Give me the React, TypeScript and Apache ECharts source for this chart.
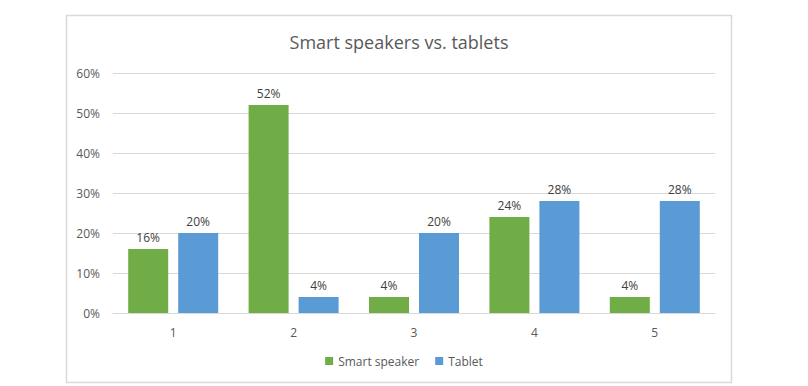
import React, { useEffect, useRef } from "react";
import * as echarts from "echarts";

const categories = ["1", "2", "3", "4", "5"];
const smartSpeaker = [16, 52, 4, 24, 4];
const tablet = [20, 4, 20, 28, 28];
const seriesNames = ["Smart speaker", "Tablet"];
const titleText = "Smart speakers vs. tablets";

export default function App() {
  const ref = useRef<HTMLDivElement>(null);
  useEffect(() => {
    if (!ref.current) return;
    const chart = echarts.init(ref.current, null, { renderer: "svg" });
    const font = "'Open Sans', 'Liberation Sans', sans-serif";
    const label = {
      show: true,
      position: "top",
      distance: 6,
      formatter: (p: any) => p.value + "%",
      color: "#404040",
      fontSize: 12,
      fontFamily: font,
    };
    chart.setOption({
      animation: false,
      backgroundColor: "#ffffff",
      graphic: [
        {
          type: "rect",
          shape: { x: 66.5, y: 15.5, width: 665, height: 367 },
          style: { fill: "none", stroke: "#d9d9d9", lineWidth: 1.5 },
          silent: true,
        },
        {
          type: "text",
          x: 399,
          y: 42,
          style: {
            text: titleText,
            fill: "#595959",
            fontSize: 18,
            fontFamily: font,
            align: "center",
            verticalAlign: "middle",
          },
          silent: true,
        },
      ],
      legend: {
        data: seriesNames,
        bottom: 14,
        left: "center",
        itemWidth: 8,
        itemHeight: 8,
        itemGap: 16,
        icon: "rect",
        textStyle: { color: "#595959", fontSize: 12, fontFamily: font },
      },
      grid: { left: 113, right: 93, top: 73, bottom: 73, containLabel: false },
      xAxis: {
        type: "category",
        data: categories,
        axisLine: { lineStyle: { color: "#d9d9d9", width: 1 } },
        axisTick: { show: false },
        axisLabel: { color: "#595959", fontSize: 12, margin: 13, fontFamily: font },
      },
      yAxis: {
        type: "value",
        min: 0,
        max: 60,
        interval: 10,
        axisLine: { show: false },
        axisTick: { show: false },
        splitLine: { lineStyle: { color: "#d9d9d9", width: 1 } },
        axisLabel: {
          formatter: (v: number) => v + "%",
          color: "#595959",
          fontSize: 12,
          margin: 13,
          fontFamily: font,
        },
      },
      series: [
        {
          name: seriesNames[0],
          type: "bar",
          data: smartSpeaker,
          barWidth: 40,
          barGap: "25%",
          itemStyle: { color: "#70ad47" },
          label,
        },
        {
          name: seriesNames[1],
          type: "bar",
          data: tablet,
          barWidth: 40,
          barGap: "25%",
          itemStyle: { color: "#5b9bd5" },
          label,
        },
      ],
    });
    return () => chart.dispose();
  }, []);
  return (
    <div
      ref={ref}
      style={{ position: "absolute", left: 0, top: 0, width: 808, height: 386 }}
    />
  );
}
